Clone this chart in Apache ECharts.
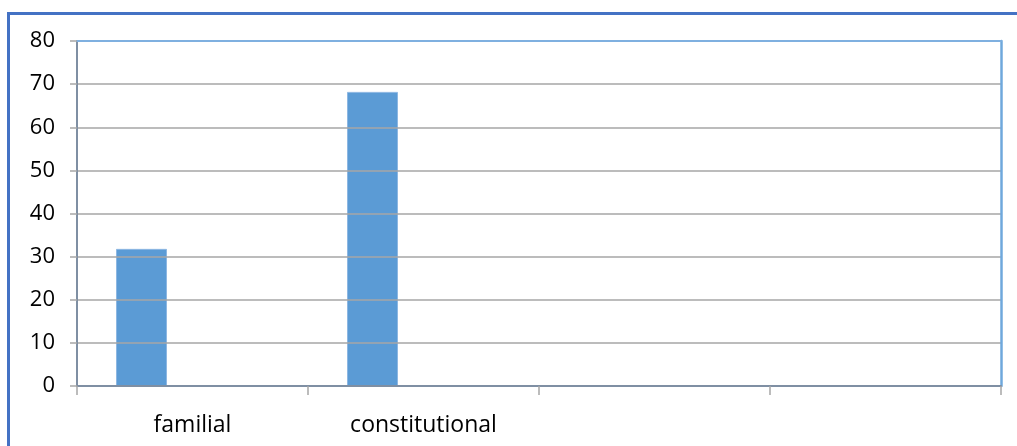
<!DOCTYPE html>
<html>
<head>
<meta charset="utf-8">
<script src="https://cdn.jsdelivr.net/npm/echarts@6/dist/echarts.min.js"></script>
<style>
html,body{margin:0;padding:0;background:#fff;}
#c{width:1017px;height:446px;}
</style>
</head>
<body>
<div id="c"></div>
<script>
const categories = ['familial', 'constitutional', '', ''];
const series1 = [31.8, 68.2, null, null];
const series2 = [null, null, null, null];
const series3 = [null, null, null, null];
const yTicks = { min: 0, max: 80, interval: 10 };

const chart = echarts.init(document.getElementById('c'), null, { renderer: 'canvas' });
const barStyle = { color: '#5B9BD5', borderColor: '#8DB7E2', borderWidth: 1 };
const font = 'Open Sans, Liberation Sans, sans-serif';
chart.setOption({
  animation: false,
  backgroundColor: '#fff',
  textStyle: { fontFamily: font },
  grid: {
    left: 77, top: 41, right: 16, bottom: 60,
    show: false, containLabel: false
  },
  graphic: [
    { type: 'rect', z: 100, shape: { x: 7, y: 12, width: 3, height: 440 }, style: { fill: '#4472C4' } },
    { type: 'rect', z: 100, shape: { x: 7, y: 12, width: 1020, height: 3 }, style: { fill: '#4472C4' } }
  ],
  xAxis: [{
    type: 'category',
    data: categories,
    z: 5,
    axisLine: { onZero: false, lineStyle: { color: '#7F8FA3', width: 2 } },
    axisTick: { show: true, length: 9, lineStyle: { color: '#A6A6A6', width: 1.5 } },
    axisLabel: { color: '#000', fontSize: 23, margin: 28, fontFamily: font },
    splitLine: { show: false }
  }, {
    type: 'category',
    data: categories,
    position: 'top',
    z: 5,
    axisLine: { onZero: false, lineStyle: { color: '#7FB0E0', width: 2 } },
    axisTick: { show: false },
    axisLabel: { show: false },
    splitLine: { show: false }
  }],
  yAxis: [{
    type: 'value',
    min: yTicks.min, max: yTicks.max, interval: yTicks.interval,
    z: 5,
    axisLine: { show: true, onZero: false, lineStyle: { color: '#7F8FA3', width: 2 } },
    axisTick: { show: true, length: 7, lineStyle: { color: '#A6A6A6', width: 1.5 } },
    axisLabel: { color: '#000', fontSize: 22, margin: 22, fontFamily: font },
    splitLine: { lineStyle: { color: '#A6A6A6', width: 1.5 } }
  }, {
    type: 'value',
    position: 'right',
    min: yTicks.min, max: yTicks.max, interval: yTicks.interval,
    z: 5,
    axisLine: { show: true, onZero: false, lineStyle: { color: '#6FA8DC', width: 2.5 } },
    axisTick: { show: false },
    axisLabel: { show: false },
    splitLine: { show: false }
  }],
  series: [
    { type: 'bar', data: series1, barWidth: 51, barGap: '0%', itemStyle: barStyle },
    { type: 'bar', data: series2, barWidth: 51, barGap: '0%', itemStyle: barStyle },
    { type: 'bar', data: series3, barWidth: 51, barGap: '0%', itemStyle: barStyle }
  ]
});
</script>
</body>
</html>
